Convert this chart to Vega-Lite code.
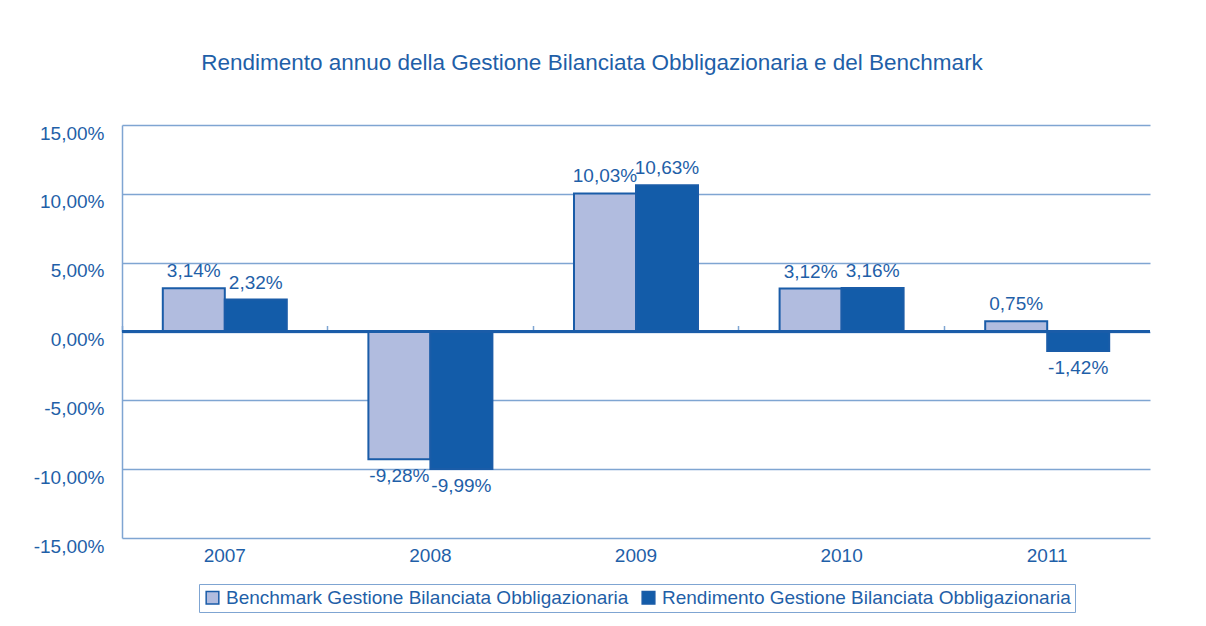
{
  "$schema": "https://vega.github.io/schema/vega-lite/v6.json",
  "width": 1028,
  "height": 413,
  "autosize": "none",
  "padding": {"left": 122, "top": 125, "right": 56, "bottom": 88},
  "background": "white",
  "title": {
    "text": "Rendimento annuo della Gestione Bilanciata Obbligazionaria e del Benchmark",
    "anchor": "middle",
    "dx": -44,
    "offset": 50,
    "font": "Liberation Sans",
    "fontSize": 22.5,
    "fontWeight": "normal",
    "color": "#1f5fa8"
  },
  "config": {
    "locale": {"number": {"decimal": ",", "thousands": ".", "grouping": [3], "currency": ["€", ""], "minus": "-"}},
    "view": {"stroke": null},
    "font": "Liberation Sans",
    "text": {"font": "Liberation Sans"}
  },
  "resolve": {"axis": {"x": "independent"}},
  "data": {
    "values": [
      {"anno": "2007", "serie": "Benchmark Gestione Bilanciata Obbligazionaria", "v": 0.0314},
      {"anno": "2007", "serie": "Rendimento Gestione Bilanciata Obbligazionaria", "v": 0.0232},
      {"anno": "2008", "serie": "Benchmark Gestione Bilanciata Obbligazionaria", "v": -0.0928},
      {"anno": "2008", "serie": "Rendimento Gestione Bilanciata Obbligazionaria", "v": -0.0999},
      {"anno": "2009", "serie": "Benchmark Gestione Bilanciata Obbligazionaria", "v": 0.1003},
      {"anno": "2009", "serie": "Rendimento Gestione Bilanciata Obbligazionaria", "v": 0.1063},
      {"anno": "2010", "serie": "Benchmark Gestione Bilanciata Obbligazionaria", "v": 0.0312},
      {"anno": "2010", "serie": "Rendimento Gestione Bilanciata Obbligazionaria", "v": 0.0316},
      {"anno": "2011", "serie": "Benchmark Gestione Bilanciata Obbligazionaria", "v": 0.0075},
      {"anno": "2011", "serie": "Rendimento Gestione Bilanciata Obbligazionaria", "v": -0.0142}
    ]
  },
  "encoding": {
    "xOffset": {
      "field": "serie",
      "type": "nominal",
      "scale": {"domain": ["Benchmark Gestione Bilanciata Obbligazionaria", "Rendimento Gestione Bilanciata Obbligazionaria"], "paddingInner": 0, "paddingOuter": 0.658}
    },
    "y": {
      "field": "v",
      "type": "quantitative",
      "scale": {"domain": [-0.15, 0.15], "nice": false},
      "axis": {
        "title": null,
        "format": ".2%",
        "values": [-0.15, -0.1, -0.05, 0, 0.05, 0.1, 0.15],
        "ticks": false,
        "domainColor": "#7fa5d2",
        "domainWidth": 1.5,
        "gridColor": "#7fa5d2",
        "gridWidth": 1.5,
        "gridOpacity": 1,
        "labelFont": "Liberation Sans",
        "labelFontSize": 19,
        "labelColor": "#1f5fa8",
        "labelPadding": 18,
        "labelOffset": 8
      }
    }
  },
  "layer": [
    {
      "mark": {"type": "bar", "stroke": "#1a5ca8", "strokeWidth": 2},
      "encoding": {
        "x": {
          "field": "anno",
          "type": "nominal",
          "scale": {"paddingInner": 0, "paddingOuter": 0},
          "axis": {
            "title": null,
            "labelAngle": 0,
            "domain": false,
            "ticks": false,
            "labelFont": "Liberation Sans",
            "labelFontSize": 19,
            "labelColor": "#1f5fa8",
            "labelPadding": 8
          }
        },
        "color": {
          "field": "serie",
          "type": "nominal",
          "scale": {"domain": ["Benchmark Gestione Bilanciata Obbligazionaria", "Rendimento Gestione Bilanciata Obbligazionaria"], "range": ["#b1bcdf", "#135ca9"]},
          "legend": {
            "title": null,
            "orient": "none",
            "legendX": 77,
            "legendY": 459,
            "direction": "horizontal",
            "symbolType": "square",
            "symbolSize": 160,
            "symbolStrokeColor": "#1a5ca8",
            "symbolStrokeWidth": 1.5,
            "labelFont": "Liberation Sans",
            "labelFontSize": 19,
            "labelColor": "#1f5fa8",
            "labelOffset": 4,
            "labelLimit": 600,
            "columnPadding": 10,
            "padding": 4,
            "strokeColor": "#7fa5d2",
            "fillColor": "white"
          }
        }
      }
    },
    {
      "mark": {"type": "rule", "color": "#1a5ca8", "strokeWidth": 1.8},
      "encoding": {"y": {"datum": 0}, "xOffset": null}
    },
    {
      "mark": {"type": "text", "opacity": 0},
      "encoding": {
        "xOffset": null,
        "text": {"value": ""},
        "x": {
          "field": "anno",
          "type": "nominal",
          "axis": {
            "title": null,
            "orient": "top",
            "offset": -206.5,
            "labels": false,
            "domain": false,
            "ticks": true,
            "bandPosition": 0,
            "tickSize": 6,
            "tickColor": "#7fa5d2",
            "tickWidth": 1.5
          }
        }
      }
    },
    {
      "transform": [{"filter": "datum.v >= 0"}],
      "mark": {"type": "text", "baseline": "middle", "dy": -17, "fontSize": 19, "color": "#1f5fa8"},
      "encoding": {
        "x": {"field": "anno", "type": "nominal", "axis": null},
        "text": {"field": "v", "type": "quantitative", "format": ".2%"}
      }
    },
    {
      "transform": [{"filter": "datum.v < 0"}],
      "mark": {"type": "text", "baseline": "middle", "dy": 17, "fontSize": 19, "color": "#1f5fa8"},
      "encoding": {
        "x": {"field": "anno", "type": "nominal", "axis": null},
        "text": {"field": "v", "type": "quantitative", "format": ".2%"}
      }
    }
  ]
}
